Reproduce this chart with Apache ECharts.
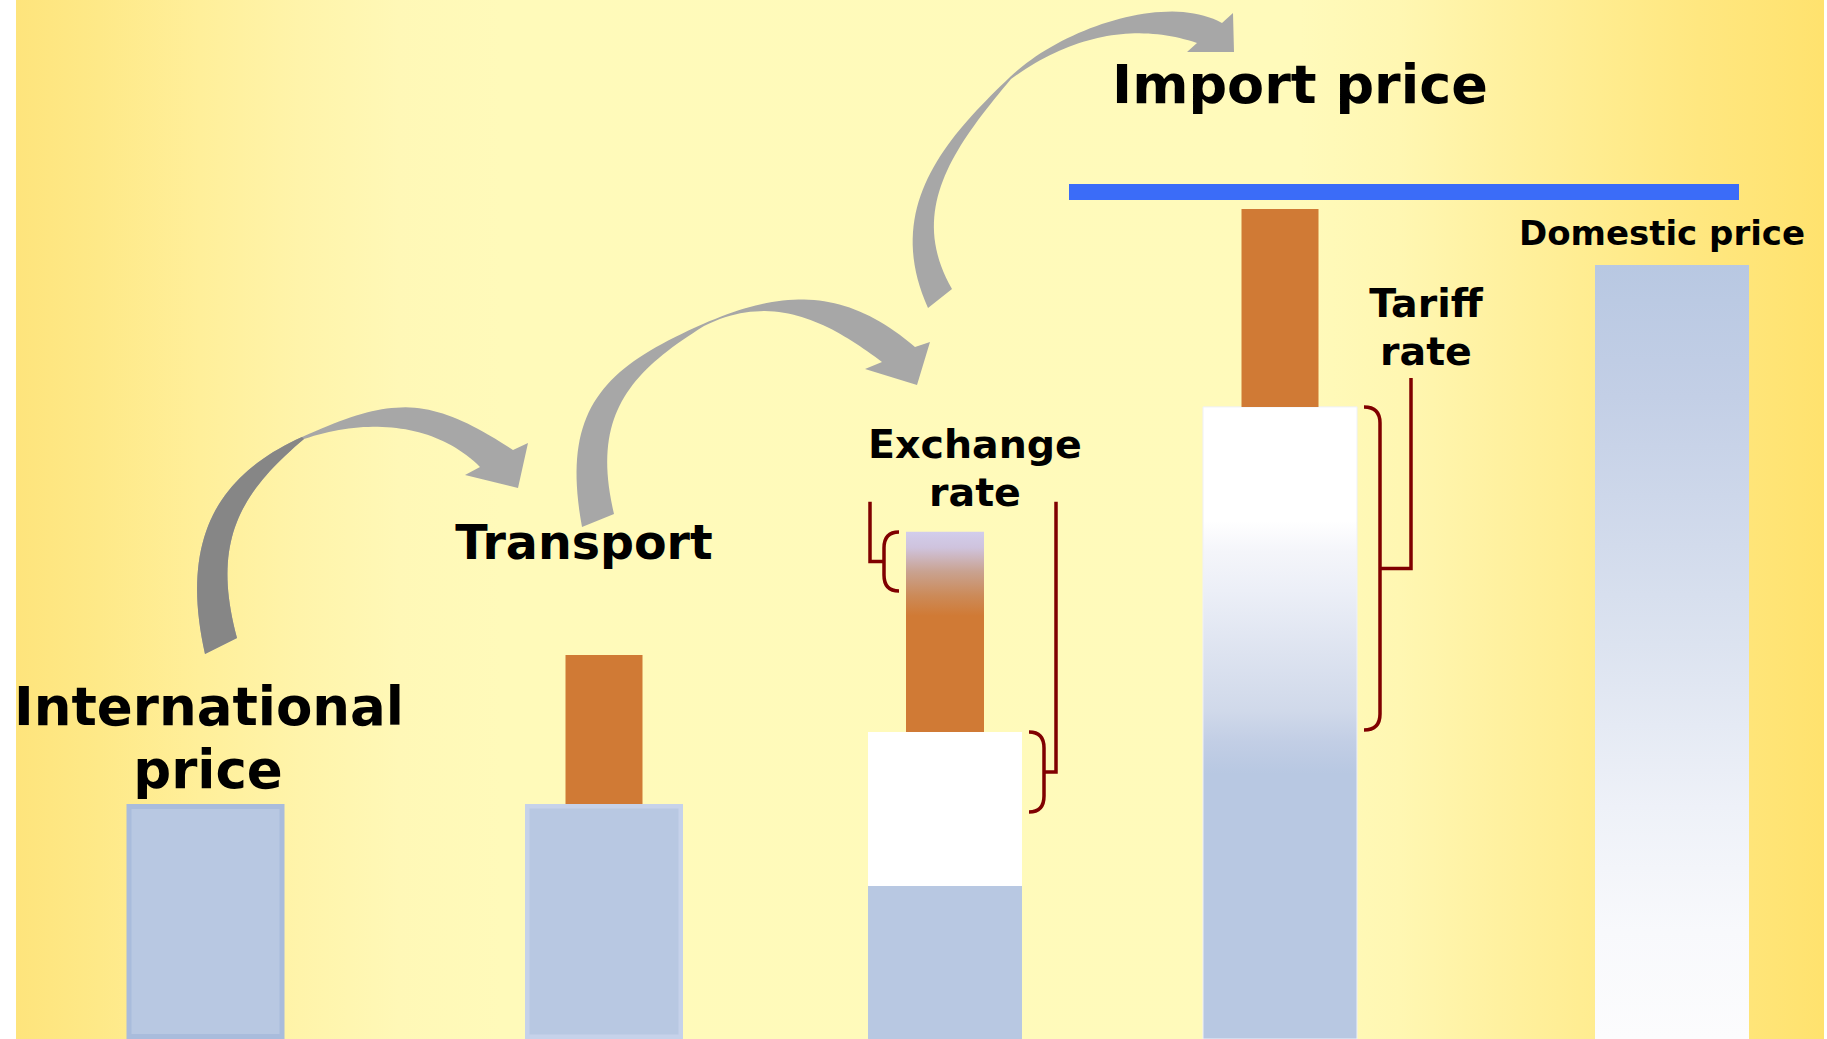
<!DOCTYPE html>
<html><head><meta charset="utf-8">
<script src="https://cdn.jsdelivr.net/npm/echarts@6/dist/echarts.min.js"></script>
<style>
html,body{margin:0;padding:0;background:#fff;overflow:hidden;}
#chart{position:absolute;left:0;top:0;width:1827px;height:1039px;}
</style></head><body><div id="chart"></div>
<script>
// ---------------- DATA (price build-up, arbitrary units: international price = 100) ----------------
const categories = ['International price', 'Transport', 'Exchange rate', 'Import price', 'Domestic price'];
const baseValues = [100, 100, 65.1, 268.9, 329.3];      // lower (blue) segment of each column
const convertedValues = [0, 0, 65.5, 0, 0];             // white segment (exchange-rate column)
const addedValues = [0, 63.4, 85.2, 84.2, 0];           // orange add-on segment
const importPriceLevel = 360.3;                         // blue import price line
const exchangeTopSpan = [190.6, 215.7];                 // small brace, exchange rate column
const exchangeBaseSpan = [96.6, 130.6];                 // brace on white part, exchange rate column
const tariffSpan = [131.4, 268.9];                      // tariff brace
const bracketLineTops = [228.6, 228.6, 281.2];

// ---------------- LAYOUT / STYLE ----------------
const W = 1827, H = 1039, Y_MAX = 442;
const U = H / Y_MAX; // px per unit
const layout = {
  centers: [205.5, 604, 945, 1280, 1672],
  widths: [158, 158, 154, 154, 154],
  addWidths: [0, 77, 78, 77, 0],
  lineX: [1069, 1739], lineThick: 16
};
const LG = (stops) => new echarts.graphic.LinearGradient(0, 0, 0, 1, stops.map(s => ({offset: s[0], color: s[1]})));
const ORANGE = '#d07a35', BLUE = '#b8c8e2';
const barStyles = [
  {base: BLUE, border: '#a9bcdc', bw: 5},
  {base: BLUE, border: '#c6d2ea', bw: 4.5, add: ORANGE},
  {base: BLUE, add: LG([[0,'#d2cdec'],[0.08,'#cfc3dd'],[0.2,'#c9a290'],[0.32,'#cc8a58'],[0.42,ORANGE],[1,ORANGE]])},
  {base: LG([[0,'#ffffff'],[0.18,'#ffffff'],[0.23,'#f4f5fa'],[0.29,'#eceff7'],[0.39,'#dde3f0'],[0.48,'#d0d9ea'],[0.53,'#c2cee5'],[0.58,BLUE],[1,BLUE]]), add: ORANGE, stroke: '#eef0f8'},
  {base: LG([[0,BLUE],[0.17,'#c3cfe6'],[0.49,'#dce3f0'],[0.7,'#eef1f8'],[0.86,'#f8f9fc'],[1,'#fcfcfd']])}
];
const brackets = [
  {span: exchangeTopSpan, end: 899, spine: 884, line: 870, top: bracketLineTops[0]},
  {span: exchangeBaseSpan, end: 1029, spine: 1044, line: 1056, top: bracketLineTops[1]},
  {span: tariffSpan, end: 1364, spine: 1380, line: 1411, top: bracketLineTops[2]}
];
const labels = [
  {t: 'International', x: 209, y: 706.7, s: 53},
  {t: 'price', x: 208, y: 769.7, s: 53},
  {t: 'Transport', x: 584, y: 542.7, s: 47.5},
  {t: 'Exchange', x: 975, y: 444.3, s: 39.5},
  {t: 'rate', x: 975, y: 492.3, s: 39.5},
  {t: 'Import price', x: 1300, y: 84.3, s: 54},
  {t: 'Tariff', x: 1426, y: 303.3, s: 39.5},
  {t: 'rate', x: 1426, y: 351.3, s: 39.5},
  {t: 'Domestic price', x: 1662, y: 232.7, s: 34}
];
// decorative curved arrows: cubic Bezier edges (lower arc + upper arc meeting at a pinch) and a triangular head
const arrows = [
  {lowOuter: [[205,654],[178.6,536.4],[220,474],[302,437]],
   upOuter:  [[302,437],[393,396],[429,395],[513,450]],
   head:     [[528,443],[518,488],[465,475]],
   upInner:  [[480,467],[437.4,424.4],[370.5,416.6],[304,439]],
   lowInner: [[304,439],[239.4,493.4],[211,542],[237,638]], dark: true},
  {lowOuter: [[582,527],[560.4,409.4],[603,368],[703,324]],
   upOuter:  [[703,324],[785,288],[846.6,288.5],[915,347]],
   head:     [[930,342],[917,385],[865,369]],
   upInner:  [[882,362],[834,326],[775.2,290],[704,326]],
   lowInner: [[704,326],[627.5,373.7],[591,417],[614,514]]},
  {lowOuter: [[928,308],[883,208],[945,139],[1010,77]],
   upOuter:  [[1010,77],[1060,29],[1166,-8],[1222,23]],
   head:     [[1233,13],[1234,52],[1187,52]],
   upInner:  [[1197,43],[1140,23.8],[1075.8,31.8],[1011,79]],
   lowInner: [[1011,79],[953,148],[907,211],[952,289]]}
];

function bez(c, n) {
  const out = [];
  for (let k = 0; k <= n; k++) {
    const t = k / n, u = 1 - t;
    const b0 = u*u*u, b1 = 3*u*u*t, b2 = 3*u*t*t, b3 = t*t*t;
    out.push([b0*c[0][0] + b1*c[1][0] + b2*c[2][0] + b3*c[3][0],
              b0*c[0][1] + b1*c[1][1] + b2*c[2][1] + b3*c[3][1]]);
  }
  return out;
}

const graphics = [
  {type: 'rect', z: -10, silent: true, shape: {x: 16, y: 0, width: 1808, height: H},
   style: {fill: new echarts.graphic.LinearGradient(0, 0, 1, 0, [
     {offset: 0, color: '#fee47c'}, {offset: 0.046, color: '#fee988'}, {offset: 0.102, color: '#ffef9a'},
     {offset: 0.157, color: '#fff4aa'}, {offset: 0.212, color: '#fff8b7'}, {offset: 0.268, color: '#fffaba'},
     {offset: 0.71, color: '#fffabb'}, {offset: 0.765, color: '#fff7b2'}, {offset: 0.82, color: '#fff1a0'},
     {offset: 0.876, color: '#ffec8f'}, {offset: 0.931, color: '#ffe780'}, {offset: 1, color: '#ffe26e'}])}}
];
arrows.forEach(a => {
  const pts = bez(a.lowOuter, 40).concat(bez(a.upOuter, 40), a.head, bez(a.upInner, 40), bez(a.lowInner, 40));
  graphics.push({type: 'polygon', z: 50, shape: {points: pts}, style: {fill: '#a7a7a7'}});
  if (a.dark) {
    const dpts = bez(a.lowOuter, 40).concat(bez(a.lowInner, 40));
    graphics.push({type: 'polygon', z: 51, shape: {points: dpts}, style: {fill: '#868686'}});
  }
});
labels.forEach(l => {
  graphics.push({type: 'text', z: 60, x: l.x, y: l.y,
    style: {text: l.t, fontFamily: '"DejaVu Sans"', fontWeight: 'bold', fontSize: l.s, fill: '#000',
            align: 'center', verticalAlign: 'middle'}});
});

function rectEl(api, x0, x1, v0, v1, style) {
  const p = api.coord([x0, v1]), q = api.coord([x1, v0]);
  return {type: 'rect', shape: {x: p[0], y: p[1], width: q[0] - p[0], height: q[1] - p[1]}, style: style};
}

function renderBar(params, api) {
  const i = params.dataIndex;
  const cx = layout.centers[i], w = layout.widths[i], aw = layout.addWidths[i];
  const b = baseValues[i], m = convertedValues[i], a = addedValues[i];
  const st = barStyles[i];
  const L = cx - w / 2, R = cx + w / 2;
  const els = [];
  if (st.border) {
    els.push(rectEl(api, L, R, 0, b, {fill: st.border}));
    els.push(rectEl(api, L + st.bw, R - st.bw, st.bw / U, b - st.bw / U, {fill: st.base}));
  } else {
    const s = {fill: st.base};
    if (st.stroke) { s.stroke = st.stroke; s.lineWidth = 1; }
    els.push(rectEl(api, L, R, 0, b, s));
  }
  if (m > 0) els.push(rectEl(api, L, R, b, b + m, {fill: '#ffffff'}));
  if (a > 0) els.push(rectEl(api, cx - aw / 2, cx + aw / 2, b + m, b + m + a, {fill: st.add}));
  return {type: 'group', children: els};
}

function renderLine(params, api) {
  const v = api.value(1);
  const p = api.coord([layout.lineX[0], v]), q = api.coord([layout.lineX[1], v]);
  return {type: 'rect', shape: {x: p[0], y: p[1] - layout.lineThick / 2, width: q[0] - p[0], height: layout.lineThick},
          style: {fill: '#3b6cf8'}};
}

function renderBracket(params, api) {
  const br = brackets[params.dataIndex];
  const yB = api.coord([0, br.span[0]])[1], yT = api.coord([0, br.span[1]])[1];
  const yM = (yT + yB) / 2, yL = api.coord([0, br.top])[1];
  const xe = api.coord([br.end, 0])[0], xs = api.coord([br.spine, 0])[0], xl = api.coord([br.line, 0])[0];
  const r = 16;
  const d = 'M' + xe + ' ' + yT + ' Q' + xs + ' ' + yT + ' ' + xs + ' ' + (yT + r) +
            ' L' + xs + ' ' + (yB - r) + ' Q' + xs + ' ' + yB + ' ' + xe + ' ' + yB +
            ' M' + xs + ' ' + yM + ' L' + xl + ' ' + yM + ' L' + xl + ' ' + yL;
  return {type: 'path', shape: {pathData: d}, style: {fill: 'none', stroke: '#800000', lineWidth: 3.5, lineJoin: 'miter'}};
}

const chart = echarts.init(document.getElementById('chart'), null, {renderer: 'svg', width: W, height: H});
chart.setOption({
  animation: false,
  backgroundColor: 'transparent',
  grid: {left: 0, right: 0, top: 0, bottom: 0},
  xAxis: {type: 'value', min: 0, max: W, show: false},
  yAxis: {type: 'value', min: 0, max: Y_MAX, show: false},
  graphic: graphics,
  series: [
    {type: 'custom', name: 'Price build-up', z: 5, renderItem: renderBar,
     data: categories.map((c, i) => ({name: c, value: [layout.centers[i], baseValues[i] + convertedValues[i] + addedValues[i]]}))},
    {type: 'custom', name: 'Import price', z: 6, renderItem: renderLine, data: [[layout.lineX[0], importPriceLevel]]},
    {type: 'custom', name: 'Brackets', z: 7, renderItem: renderBracket,
     data: brackets.map(b => [b.end, b.span[1]])}
  ]
});
</script></body></html>
